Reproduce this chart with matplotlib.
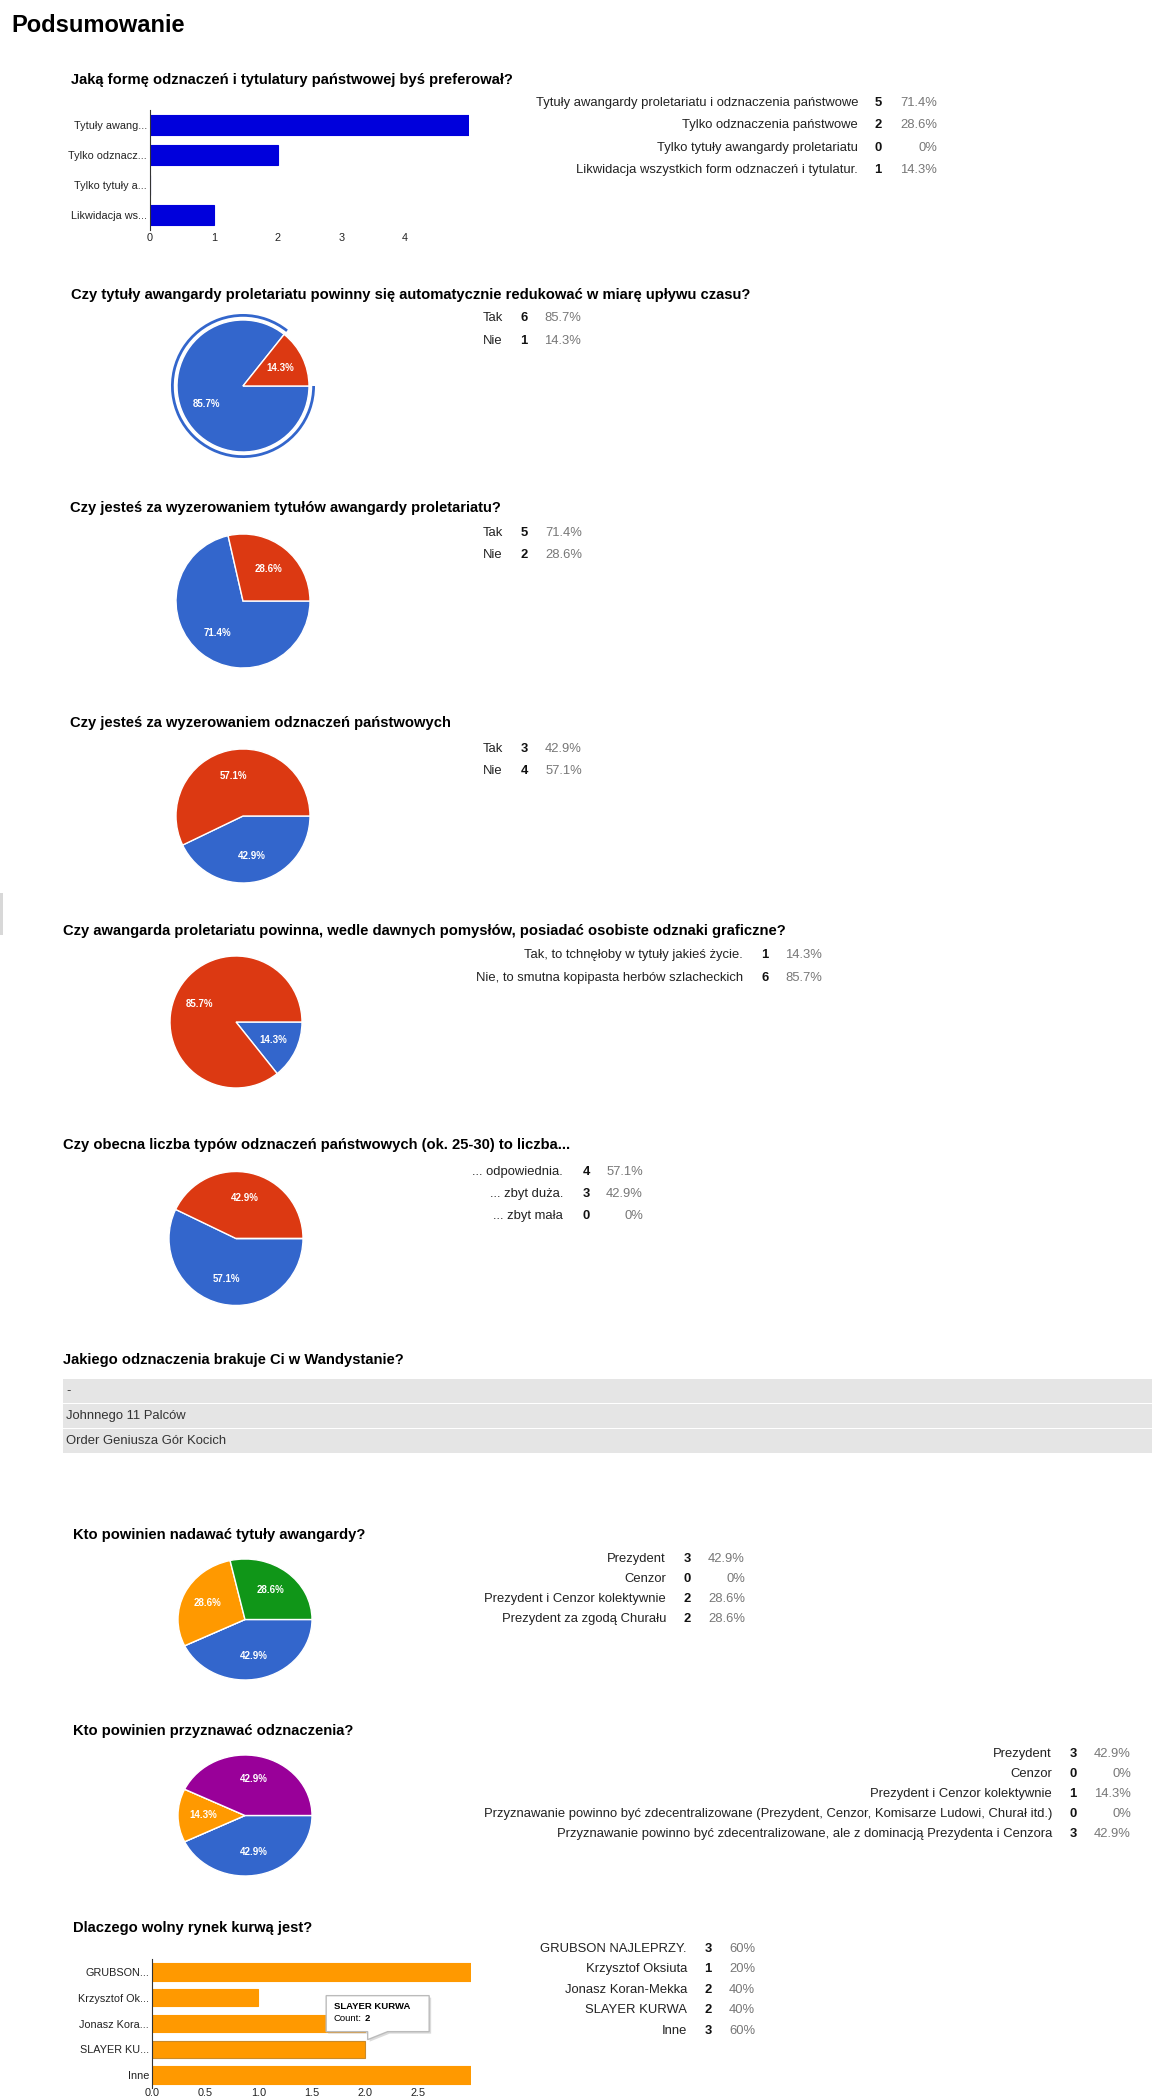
import numpy as np
import matplotlib
matplotlib.use("Agg")
import matplotlib.pyplot as plt
from matplotlib.patches import Rectangle, Polygon, Arc

plt.rcParams['font.family'] = ['Liberation Sans', 'DejaVu Sans']

# colours used by the google forms summary
GOOGLE = ['#3366cc', '#dc3912', '#ff9900', '#109618', '#990099']

# ---- data ----
q1_title = "Jaką formę odznaczeń i tytulatury państwowej byś preferował?"
q1_options = ["Tytuły awangardy proletariatu i odznaczenia państwowe", "Tylko odznaczenia państwowe",
              "Tylko tytuły awangardy proletariatu", "Likwidacja wszystkich form odznaczeń i tytulatur."]
q1_short = ["Tytuły awang...", "Tylko odznacz...", "Tylko tytuły a...", "Likwidacja ws..."]
q1_counts = [5, 2, 0, 1]
q1_pct = ["71.4%", "28.6%", "0%", "14.3%"]

q2_title = "Czy tytuły awangardy proletariatu powinny się automatycznie redukować w miarę upływu czasu?"
q2_options = ["Tak", "Nie"]
q2_counts = [6, 1]
q2_pct = ["85.7%", "14.3%"]

q3_title = "Czy jesteś za wyzerowaniem tytułów awangardy proletariatu?"
q3_options = ["Tak", "Nie"]
q3_counts = [5, 2]
q3_pct = ["71.4%", "28.6%"]

q4_title = "Czy jesteś za wyzerowaniem odznaczeń państwowych"
q4_options = ["Tak", "Nie"]
q4_counts = [3, 4]
q4_pct = ["42.9%", "57.1%"]

q5_title = "Czy awangarda proletariatu powinna, wedle dawnych pomysłów, posiadać osobiste odznaki graficzne?"
q5_options = ["Tak, to tchnęłoby w tytuły jakieś życie.", "Nie, to smutna kopipasta herbów szlacheckich"]
q5_counts = [1, 6]
q5_pct = ["14.3%", "85.7%"]

q6_title = "Czy obecna liczba typów odznaczeń państwowych (ok. 25-30) to liczba..."
q6_options = ["... odpowiednia.", "... zbyt duża.", "... zbyt mała"]
q6_counts = [4, 3, 0]
q6_pct = ["57.1%", "42.9%", "0%"]

q7_title = "Jakiego odznaczenia brakuje Ci w Wandystanie?"
q7_answers = ["-", "Johnnego 11 Palców", "Order Geniusza Gór Kocich"]

q8_title = "Kto powinien nadawać tytuły awangardy?"
q8_options = ["Prezydent", "Cenzor", "Prezydent i Cenzor kolektywnie", "Prezydent za zgodą Churału"]
q8_counts = [3, 0, 2, 2]
q8_pct = ["42.9%", "0%", "28.6%", "28.6%"]

q9_title = "Kto powinien przyznawać odznaczenia?"
q9_options = ["Prezydent", "Cenzor", "Prezydent i Cenzor kolektywnie",
              "Przyznawanie powinno być zdecentralizowane (Prezydent, Cenzor, Komisarze Ludowi, Churał itd.)",
              "Przyznawanie powinno być zdecentralizowane, ale z dominacją Prezydenta i Cenzora"]
q9_counts = [3, 0, 1, 0, 3]
q9_pct = ["42.9%", "0%", "14.3%", "0%", "42.9%"]

q10_title = "Dlaczego wolny rynek kurwą jest?"
q10_options = ["GRUBSON NAJLEPRZY.", "Krzysztof Oksiuta", "Jonasz Koran-Mekka", "SLAYER KURWA", "Inne"]
q10_short = ["GRUBSON...", "Krzysztof Ok...", "Jonasz Kora...", "SLAYER KU...", "Inne"]
q10_counts = [3, 1, 2, 2, 3]
q10_pct = ["60%", "20%", "40%", "40%", "60%"]
q10_hover = 3

W, H = 1152, 2098
fig = plt.figure(figsize=(W / 100, H / 100), dpi=100)

# overlay axes in pixel coordinates for all the text
ov = fig.add_axes([0, 0, 1, 1], zorder=10)
ov.set_xlim(0, W)
ov.set_ylim(H, 0)
ov.axis('off')
ov.patch.set_alpha(0)


def box(x, y, w, h):
    return fig.add_axes([x / W, 1 - (y + h) / H, w / W, h / H])


def title(x, y, s):
    ov.text(x, y, s, fontsize=10.6, fontweight='bold', color='#000', va='center', ha='left')


def table(labels, counts, pcts, y0, dy, xl, xc, xp):
    for i, (lab, c, p) in enumerate(zip(labels, counts, pcts)):
        y = y0 + i * dy
        ov.text(xl, y, lab, fontsize=9.4, color='#222', ha='right', va='center')
        ov.text(xc, y, str(c), fontsize=9.4, color='#111', fontweight='bold', ha='center', va='center')
        ov.text(xp, y, p, fontsize=9.4, color='#777', ha='right', va='center')


def pie(cx, cy, rx, ry, counts, ring=False):
    m = 1.12
    ax = box(cx - rx * m, cy - ry * m, 2 * rx * m, 2 * ry * m)
    ax.pie(counts, colors=GOOGLE[:len(counts)], startangle=0, counterclock=False,
           autopct=lambda p: f'{p:.1f}%' if p > 0 else '', pctdistance=0.62,
           wedgeprops=dict(edgecolor='white', linewidth=1),
           textprops=dict(color='white', fontsize=7, fontweight='bold'))
    ax.set_aspect('auto')
    ax.set_xlim(-m, m)
    ax.set_ylim(-m, m)
    ax.axis('off')
    if ring:
        # selected slice outline
        t1 = 360 * (1 - counts[0] / sum(counts))
        ax.add_patch(Arc((0, 0), 2.14, 2.14, theta1=t1, theta2=360, color=GOOGLE[0], lw=2))
    return ax


def bars(x, y, w, h, labels, counts, xmax, ticks, ticklabels, color, tickpad, edges=None):
    ax = box(x, y, w, h)
    pos = np.arange(len(counts))
    ax.barh(pos, counts, height=0.67, color=color,
            edgecolor=edges if edges else color, linewidth=0.8)
    ax.set_ylim(len(counts) - 0.5, -0.5)
    ax.set_xlim(0, xmax)
    ax.set_yticks(pos, labels)
    ax.set_xticks(ticks, ticklabels)
    for s in ['top', 'right', 'bottom']:
        ax.spines[s].set_visible(False)
    ax.spines['left'].set_color('#333')
    ax.patch.set_alpha(0)
    ax.tick_params(length=0, labelsize=7.8, labelcolor='#222')
    ax.tick_params(axis='y', pad=2)
    ax.tick_params(axis='x', pad=tickpad)
    return ax


ov.text(11, 32, "Podsumowanie", fontsize=17, fontweight='bold', color='#000', va='baseline')

# Q1
title(71, 80, q1_title)
bars(150, 110, 319, 120, q1_short, q1_counts, 5, [0, 1, 2, 3, 4], ['0', '1', '2', '3', '4'], '#0000dc', 2.5)
table(q1_options, q1_counts, q1_pct, 103, 22.3, 858, 878, 937)

# Q2
title(71, 295, q2_title)
pie(243, 386, 66, 66, q2_counts, ring=True)
table(q2_options, q2_counts, q2_pct, 318, 23, 503, 524, 581)

# Q3
title(70, 508, q3_title)
pie(243, 601, 67, 67, q3_counts)
table(q3_options, q3_counts, q3_pct, 533, 22, 503, 524, 582)

# Q4
title(70, 723, q4_title)
pie(243, 816, 67, 67, q4_counts)
table(q4_options, q4_counts, q4_pct, 749, 22, 503, 524, 582)

# little grey mark at the left border
ov.add_patch(Rectangle((0, 893), 2.5, 42, color='#d8d8d8', lw=0))

# Q5
title(63, 931, q5_title)
pie(236, 1022, 66, 66, q5_counts)
table(q5_options, q5_counts, q5_pct, 955, 23, 743, 765, 822)

# Q6
title(63, 1145, q6_title)
pie(236, 1238.5, 67, 67, q6_counts)
table(q6_options, q6_counts, q6_pct, 1172, 22, 563, 586, 643)

# Q7 text answers
title(63, 1360, q7_title)
for i, ans in enumerate(q7_answers):
    top = 1379 + i * 25
    ov.add_patch(Rectangle((63, top), W - 63, 23.7, color='#e5e5e5', lw=0))
    ov.text(66, top + 12, ans, fontsize=9.4, color='#333', va='center', ha='left')

# Q8
title(73, 1535, q8_title)
pie(245, 1619.5, 67, 60.5, q8_counts)
table(q8_options, q8_counts, q8_pct, 1559, 20, 666, 687, 745)

# Q9
title(73, 1731, q9_title)
pie(245, 1815.5, 67, 60.5, q9_counts)
table(q9_options, q9_counts, q9_pct, 1754, 20, 1052, 1073, 1131)

# Q10
title(73, 1928, q10_title)
edges = ['#ff9900'] * len(q10_counts)
edges[q10_hover] = '#c98a2a'
ax10 = bars(152, 1959, 319, 129, q10_short, q10_counts, 3, [0, 0.5, 1, 1.5, 2, 2.5],
            ['0.0', '0.5', '1.0', '1.5', '2.0', '2.5'], '#ff9900', 0.3, edges)
table(q10_options, q10_counts, q10_pct, 1949, 20.4, 687, 708, 755)

# tooltip over the hovered bar, tip taken from the bar end
fig.canvas.draw()
tip = ax10.transData.transform((q10_counts[q10_hover], q10_hover - 0.335))
tx, ty = tip[0] + 3, H - tip[1] - 1
L, R, T, B = tx - 41.5, tx + 61.5, ty - 44, ty - 8
pts = [(L, T), (R, T), (R, B), (tx + 20, B), (tx, ty), (tx, B), (L, B)]
ov.add_patch(Polygon([(px + 2, py + 2) for px, py in pts], closed=True, fc='#999999', ec='none', alpha=0.35))
ov.add_patch(Polygon(pts, closed=True, fc='white', ec='#bbbbbb', lw=1))
ov.text(L + 7.5, T + 11, q10_options[q10_hover], fontsize=6.8, fontweight='bold', color='#000', va='center')
t1 = ov.text(L + 7.5, T + 23, "Count:", fontsize=6.8, color='#000', va='center')
ov.annotate(str(q10_counts[q10_hover]), xy=(1, 0.5), xycoords=t1, xytext=(2, 0),
            textcoords='offset points', fontsize=6.8, fontweight='bold', va='center', ha='left')

fig.savefig("out.png", dpi=100, facecolor='white')
